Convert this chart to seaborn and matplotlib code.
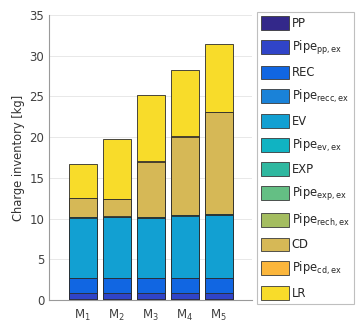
import numpy as np
import pandas as pd
import seaborn as sns
import matplotlib.pyplot as plt
from matplotlib.patches import Patch

# models on the x axis
models = ['M$_1$', 'M$_2$', 'M$_3$', 'M$_4$', 'M$_5$']

# charge per component [kg], bottom to top of the stack
components = ['PP', 'Pipe$_{pp,ex}$', 'REC', 'Pipe$_{recc,ex}$', 'EV', 'Pipe$_{ev,ex}$',
              'EXP', 'Pipe$_{exp,ex}$', 'Pipe$_{rech,ex}$', 'CD', 'Pipe$_{cd,ex}$', 'LR']
pp = [0.08, 0.08, 0.08, 0.08, 0.08]
pipe_pp = [0.82, 0.82, 0.82, 0.82, 0.82]
rec = [1.8, 1.8, 1.8, 1.8, 1.8]
pipe_rec = [0.05, 0.05, 0.05, 0.05, 0.05]
ev = [7.35, 7.4, 7.3, 7.6, 7.7]
pipe_ev = [0.03, 0.03, 0.03, 0.03, 0.03]
exp_ = [0.05, 0.05, 0.05, 0.05, 0.05]
pipe_exp = [0.02, 0.02, 0.02, 0.02, 0.02]
pipe_rech = [0.02, 0.02, 0.02, 0.02, 0.02]
cd = [2.25, 2.1, 6.8, 9.6, 12.5]
pipe_cd = [0.05, 0.05, 0.05, 0.05, 0.05]
lr = [4.15, 7.3, 8.1, 8.1, 8.3]

colors = ['#33288a', '#3044c8', '#1166e2', '#1a82d8', '#12a0d2', '#10b3c2',
          '#2fb8a0', '#64bf84', '#a4bd60', '#d6b856', '#fbb63c', '#f8dc2a']

df = pd.DataFrame(np.array([pp, pipe_pp, rec, pipe_rec, ev, pipe_ev, exp_, pipe_exp,
                            pipe_rech, cd, pipe_cd, lr]).T, columns=components)
df['model'] = models
cum = df[components].cumsum(axis=1)

sns.set_style('white')
plt.rcParams['mathtext.default'] = 'regular'
plt.rcParams['font.family'] = ['DejaVu Sans']

fig = plt.figure(figsize=(3.56, 3.25), dpi=100)
ax = fig.add_axes([0.138, 0.077, 0.570, 0.877])
ax.set_axisbelow(True)
ax.grid(True, color='#e4e4e4', linewidth=0.6)

# draw the cumulative totals from the top layer down so they stack
for comp, col in reversed(list(zip(components, colors))):
    sns.barplot(x=df['model'], y=cum[comp], color=col, saturation=1, width=0.82,
                edgecolor='#2b2b2b', linewidth=0.6, ax=ax)

ax.set_xlim(-0.985, 4.985)
ax.set_ylim(0, 35)
ax.set_yticks(range(0, 36, 5))
ax.set_xlabel('')
ax.set_ylabel('Charge inventory [kg]', fontsize=8.3, color='#333333', labelpad=3)
ax.tick_params(axis='both', colors='#404040', labelsize=8.5, direction='in', length=2)
ax.tick_params(axis='x', pad=6)
for s in ['top', 'right']:
    ax.spines[s].set_visible(False)
for s in ['left', 'bottom']:
    ax.spines[s].set_color('#9a9a9a')
    ax.spines[s].set_linewidth(0.8)

handles = [Patch(facecolor=c, edgecolor='#3a3a3a', linewidth=0.6) for c in colors]
leg = fig.legend(handles, components, loc='upper left', bbox_to_anchor=(0.722, 0.962),
                 fontsize=8.3, frameon=True, fancybox=False, edgecolor='#b0b0b0',
                 handlelength=2.4, handleheight=1.45, labelspacing=0.76,
                 handletextpad=0.25, borderpad=0.35, borderaxespad=0)
leg.get_frame().set_linewidth(0.8)

fig.savefig('out.png', dpi=100)
